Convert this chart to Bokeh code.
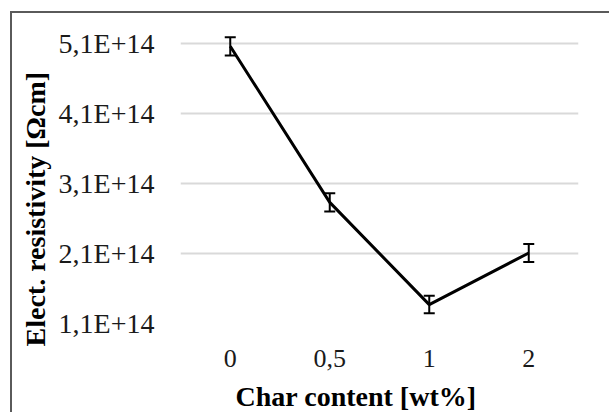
from bokeh.plotting import figure
from bokeh.models import (ColumnDataSource, Range1d, FactorRange, FixedTicker,
                          Whisker, TeeHead, Title)
from bokeh.embed import file_html
from bokeh.resources import INLINE

# ---- data ----
categories = ["0", "0,5", "1", "2"]
resistivity = [5.06e14, 2.83e14, 1.37e14, 2.107e14]
errors = [0.13e14, 0.13e14, 0.125e14, 0.13e14]
y_ticks = [1.1e14, 2.1e14, 3.1e14, 4.1e14, 5.1e14]
y_tick_labels = ["1,1E+14", "2,1E+14", "3,1E+14", "4,1E+14", "5,1E+14"]
x_title = "Char content [wt%]"
y_title = "Elect. resistivity [\u03a9cm]"

FONT = "'Liberation Serif', 'Times New Roman', serif"

src = ColumnDataSource(dict(
    x=categories,
    y=resistivity,
    upper=[v + e for v, e in zip(resistivity, errors)],
    lower=[v - e for v, e in zip(resistivity, errors)],
))

p = figure(
    x_range=FactorRange(*categories, range_padding=0),
    y_range=Range1d(1.1e14, 5.3e14),
    frame_width=398, frame_height=294,
    min_border_left=166, min_border_right=60,
    min_border_top=16, min_border_bottom=120,
    output_backend="svg", toolbar_location=None,
    background_fill_color="white", border_fill_color="white",
)
p.outline_line_color = None
p.styles = {"margin-left": "12px", "margin-top": "13px",
            "box-shadow": "-2px -2px 0px 0px #5a5a5a"}

# grid
p.xgrid.grid_line_color = None
p.ygrid.ticker = FixedTicker(ticks=y_ticks)
p.ygrid.grid_line_color = "#d9d9d9"
p.ygrid.grid_line_width = 2

# axes
for ax in (p.xaxis[0], p.yaxis[0]):
    ax.axis_line_color = None
    ax.major_tick_line_color = None
    ax.minor_tick_line_color = None
    ax.major_tick_out = 0
    ax.major_tick_in = 0
    ax.major_label_text_font = FONT
    ax.major_label_text_color = "#1a1a1a"

p.xaxis.major_label_text_font_size = "26px"
p.yaxis.major_label_text_font_size = "28px"
p.yaxis.ticker = FixedTicker(ticks=y_ticks)
p.yaxis.major_label_overrides = {t: l for t, l in zip(y_ticks, y_tick_labels)}
p.yaxis.major_label_standoff = 26
p.xaxis.major_label_standoff = 26

# line + error bars
p.line("x", "y", source=src, line_color="black", line_width=3)
w = Whisker(base="x", upper="upper", lower="lower", source=src,
            line_color="black", line_width=2,
            upper_head=TeeHead(size=11, line_width=2, line_color="black"),
            lower_head=TeeHead(size=11, line_width=2, line_color="black"),
            level="overlay")
p.add_layout(w)

# axis titles
xt = Title(text=x_title, align="left", offset=55, text_font=FONT,
           text_font_size="28px", text_font_style="bold", text_color="black",
           standoff=18)
p.add_layout(xt, "below")
yt = Title(text=y_title, align="left", offset=-23, text_font=FONT,
           text_font_size="28px", text_font_style="bold", text_color="black",
           standoff=10)
p.add_layout(yt, "left")

open("out.html", "w").write(file_html(p, INLINE))
